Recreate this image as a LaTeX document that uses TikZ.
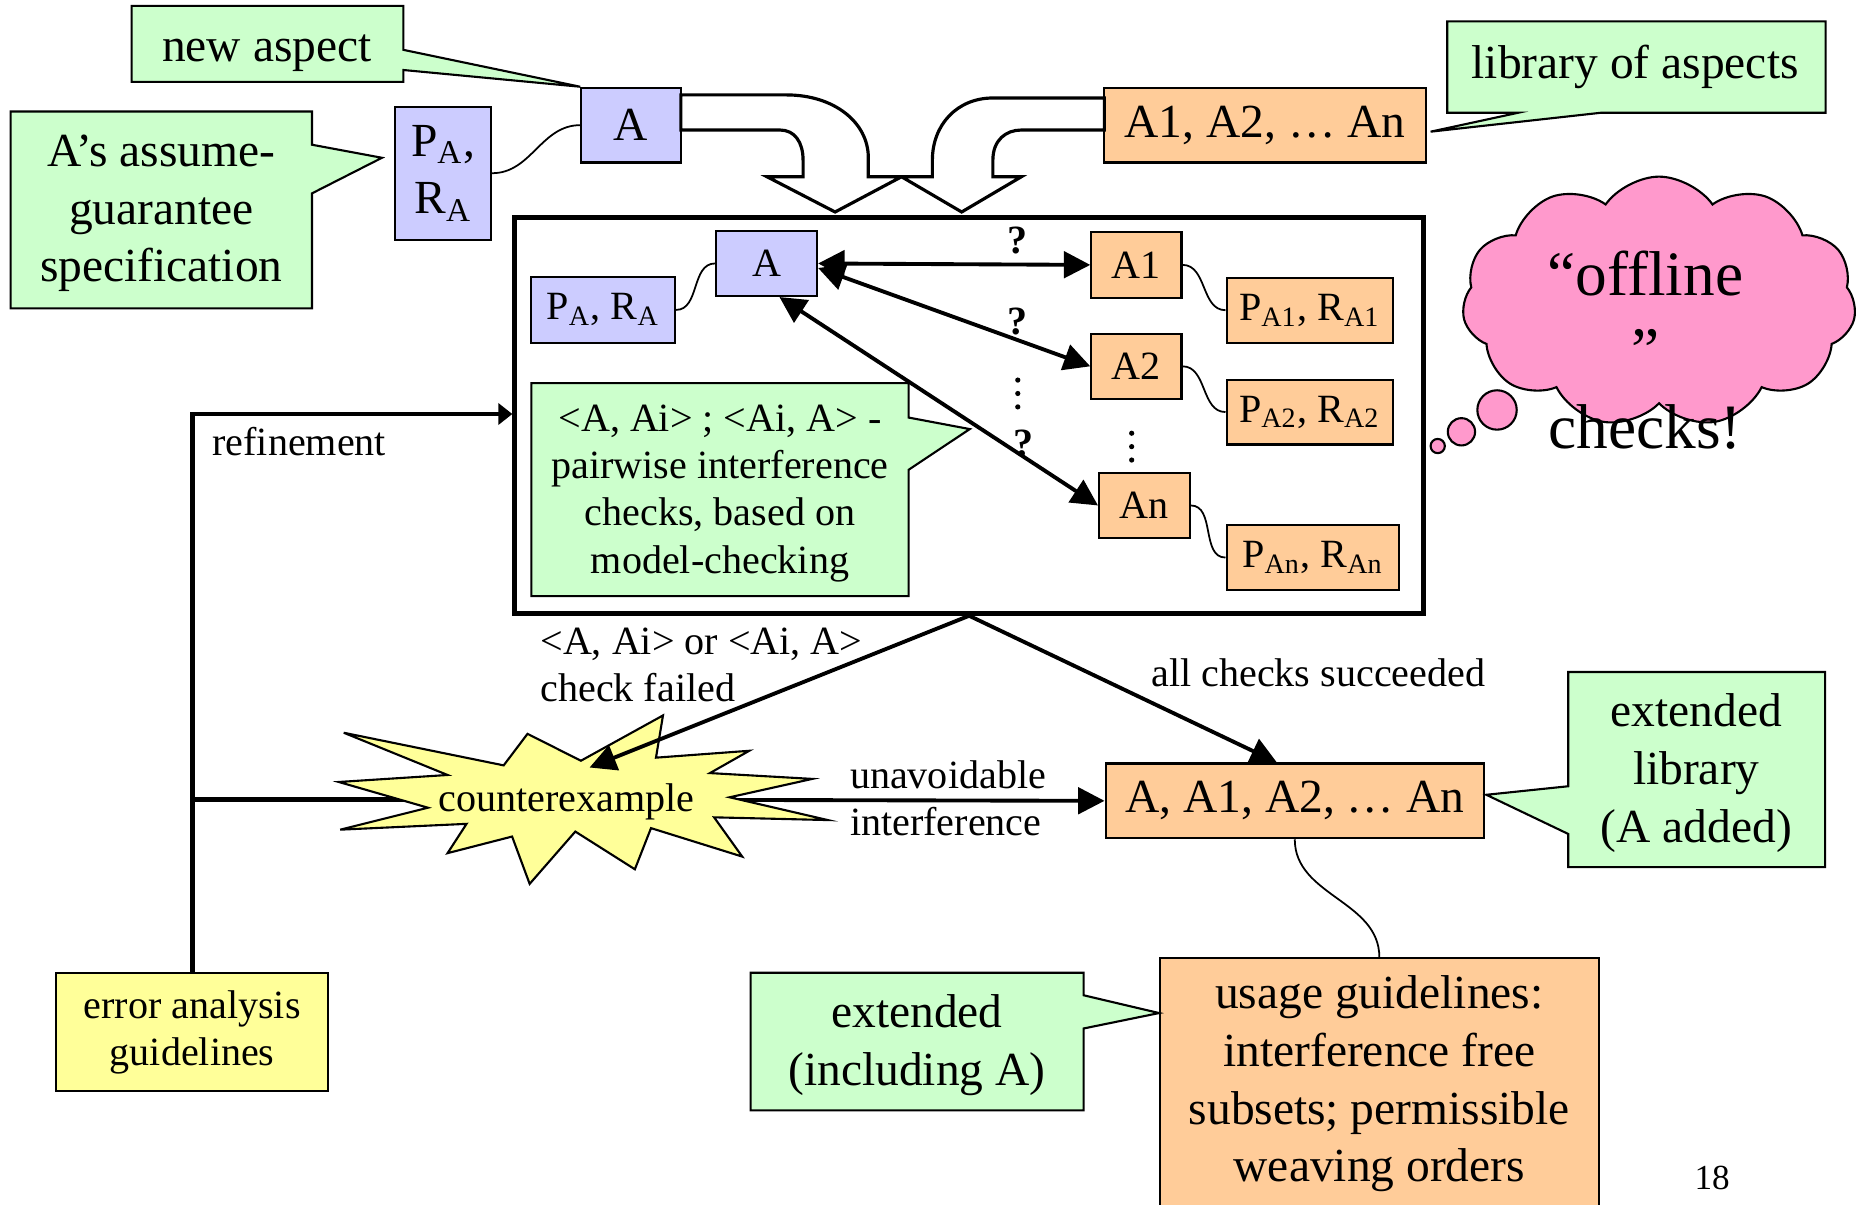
\documentclass[tikz,border=0pt]{standalone}
\usepackage{fontspec}
\setmainfont{Liberation Serif}
\usetikzlibrary{arrows.meta,shapes.symbols}
\definecolor{lav}{HTML}{CCCCFF}
\definecolor{peach}{HTML}{FFCC99}
\definecolor{mint}{HTML}{CCFFCC}
\definecolor{lemon}{HTML}{FFFF99}
\definecolor{rose}{HTML}{FF99CC}
\newdimen\pxu \pxu=0.011862cm
\newcommand\fbig{\fontsize{13.5}{16.4}\selectfont}
\newcommand\fsmall{\fontsize{11.4}{13.4}\selectfont}
\newcommand\fcloud{\fontsize{18}{21.8}\selectfont}
\tikzset{
  sz/.style 2 args={minimum width=#1*\pxu, minimum height=#2*\pxu},
  box/.style={draw=black, line width=0.6pt, inner sep=0pt, align=center},
  aspA/.style={box, fill=lav},
  aspL/.style={box, fill=peach},
  note/.style={draw=black, fill=mint, line width=0.6pt, line join=miter},
  txt/.style={inner sep=0pt, align=center},
  link/.style={draw=black, line width=0.5pt},
  flow/.style={line width=1.1pt, -{Triangle[length=7.5pt,width=7.5pt]}},
  both/.style={line width=1.1pt, {Triangle[length=7.5pt,width=7.5pt]}-{Triangle[length=7.5pt,width=7.5pt]}},
  heavy/.style={line width=1.4pt, line join=miter},
  hollow/.style={draw=black, fill=white, line width=0.9pt, line join=miter},
  ask/.style={inner sep=0pt, font=\fsmall\bfseries},
}

\begin{document}
\begin{tikzpicture}[x=0.011862cm, y=-0.011862cm]
  \useasboundingbox (0,0) rectangle (1568,1015);
  \clip (0,0) rectangle (1568,1015);

  % top row
  \node[aspA, sz={84}{63}, font=\fbig] (topA) at (532,105.5) {A};
  \node[aspA, sz={81}{112}, font=\fbig] (topPR) at (373.5,146) {P\textsubscript{A},\\R\textsubscript{A}};
  \node[aspL, sz={271}{63}, font=\fbig] (topL) at (1066.5,105.5) {A1, A2, … An};
  \draw[link] (topPR.east) to[out=0,in=180] (topA.west);

  \draw[note] (111,5) -- (340,5) -- (340,42) -- (topA.north west) -- (340,59) -- (340,69) -- (111,69) -- cycle;
  \node[txt, font=\fbig, anchor=base] (newasp) at (225,52) {new aspect};
  \draw[note] (9,94) -- (263,94) -- (263,122) -- (322,133) -- (263,163) -- (263,260) -- (9,260) -- cycle;
  \node[txt, font=\fbig] (spec) at (136,180) {A’s assume-\\guarantee\\specification};
  \draw[note] (1220,18) -- (1539,18) -- (1539,95) -- (1350,95) -- (1206,111) -- (1280,95) -- (1220,95) -- cycle;
  \node[txt, font=\fbig, anchor=base] (lib) at (1378.5,66) {library of aspects};

  % merging arrows
  \draw[hollow] (574,80) -- (663,80) .. controls (703,80) and (732,103) .. (732,133) -- (732,149)
    -- (760,149) -- (704,178.7) -- (646.6,149) -- (677,149) -- (677,135)
    .. controls (677,120) and (670,109.6) .. (657.6,109.6) -- (574,109.6) -- cycle;
  \draw[hollow] (931,82.6) -- (837,82.6) .. controls (807,82.6) and (786,105) .. (786,135) -- (786,149)
    -- (760,149) -- (810.7,178.7) -- (861,149) -- (837,149) -- (837,135)
    .. controls (837,118) and (848,109.6) .. (861,109.6) -- (931,109.6) -- cycle;

  % pairwise checks
  \node[draw=black, line width=1.4pt, sz={766}{334}] (check) at (817,350) {};
  \node[aspA, sz={85.2}{54.8}, font=\fsmall] (inA) at (646.2,222.1) {A};
  \node[aspA, sz={121}{55.5}, font=\fsmall] (inPR) at (508.5,261.25) {P\textsubscript{A}, R\textsubscript{A}};
  \node[aspL, sz={76}{55.4}, font=\fsmall] (inA1) at (958,223.3) {A1};
  \node[aspL, sz={140}{55}, font=\fsmall] (pr1) at (1104,261.5) {P\textsubscript{A1}, R\textsubscript{A1}};
  \node[aspL, sz={76}{54.4}, font=\fsmall] (inA2) at (958,308.8) {A2};
  \node[aspL, sz={140}{54.7}, font=\fsmall] (pr2) at (1104,347.35) {P\textsubscript{A2}, R\textsubscript{A2}};
  \node[aspL, sz={76.5}{54.8}, font=\fsmall] (inAn) at (964.75,426.1) {An};
  \node[aspL, sz={145.5}{54.8}, font=\fsmall] (prn) at (1106.75,470) {P\textsubscript{An}, R\textsubscript{An}};
  \draw[link] (inPR.east) to[out=0,in=180] (inA.west);
  \draw[link] (inA1.east) to[out=0,in=180] (pr1.west);
  \draw[link] (inA2.east) to[out=0,in=180] (pr2.west);
  \draw[link] (inAn.east) to[out=0,in=180] (prn.west);

  \draw[note] (448,323) -- (766,323) -- (766,352) -- (817.5,361.7) -- (766,396) -- (766,502.5) -- (448,502.5) -- cycle;
  \node[txt, font=\fsmall] (pairs) at (607,416) {<A, Ai> ; <Ai, A> -\\pairwise interference\\checks, based on\\model-checking};

  \draw[both] (inA.east) -- (inA1.west);
  \draw[both] (inA.-5) -- (inA2.west);
  \draw[both] (inA.-69) -- (inAn.west);
  \node[ask] (q1) at (858,202.7) {?};
  \node[ask] (q2) at (858,271) {?};
  \node[ask] (q3) at (863,374) {?};
  \foreach \dy in {0,11.3,22.6} {
    \fill (858,320.4+\dy) circle[radius=2.2];
    \fill (954,365.2+\dy) circle[radius=2.2];
  }

  % thought cloud
  \node[cloud, cloud puffs=11, cloud puff arc=110, cloud ignores aspect, draw=black, fill=rose,
    line width=0.6pt, sz={332}{211}] (cloud) at (1398.6,254.4) {};
  \foreach \bx/\by/\br in {1262/345.6/16.6, 1232/364/11.5, 1212/376/6}
    \draw[fill=rose, line width=0.6pt] (\bx,\by) circle[radius=\br];
  \node[txt, font=\fcloud] (offl) at (1387,295) {“offline\\”\\checks!};

  % results
  \node[aspL, sz={319}{63}, font=\fbig] (botL) at (1091.5,675.1) {A, A1, A2, … An};
  \node[box, fill=lemon, sz={229.4}{100}, font=\fsmall] (err) at (162,870) {error analysis\\guidelines};
  \coordinate (rf) at (162,349);
  \draw[heavy, -{Triangle[length=4pt,width=6pt]}] (err.north) -- (rf) -- (rf -| check.west);
  \node[txt, font=\fsmall, anchor=base west] (reflab) at (178.5,383.6) {refinement};

  \coordinate (cexc) at (477.5,674);
  \draw[heavy] (cexc -| rf) -- (cexc);
  \draw[flow] (cexc) -- (botL.west);
  \draw[fill=lemon, line width=0.6pt, line join=miter]
    (289.8,617.7) -- (424.6,645.2) -- (444.7,618.6) -- (489.7,641.3) -- (558.9,603.1) -- (553.0,638.7)
    -- (631.6,632.9) -- (598.5,651.7) -- (684.8,656.6) -- (615.1,672.1) -- (697.8,691.3) -- (602.0,689.0)
    -- (625.7,722.1) -- (548.8,698.1) -- (535.2,732.8) -- (485.0,701.0) -- (446.5,745.1) -- (431.7,705.2)
    -- (377.3,719.2) -- (393.3,694.5) -- (286.8,699.4) -- (360.8,680.9) -- (285.6,659.2) -- (377.3,653.3) -- cycle;
  \node[txt, font=\fsmall] (cex) at (477.5,676) {counterexample};
  \node[txt, font=\fsmall, align=left, anchor=west] (unavlab) at (716,672.6) {unavoidable\\interference};

  \coordinate (hit) at (497,647);
  \draw[flow] (check.south) -- (hit);
  \draw[flow] (check.south) -- (botL.115);
  \node[txt, font=\fsmall, align=left, anchor=west] (faillab) at (455,560.2) {<A, Ai> or <Ai, A>\\check failed};
  \node[txt, font=\fsmall, anchor=base west] (oklab) at (970,579) {all checks succeeded};

  \draw[note] (1322,566.5) -- (1538.6,566.5) -- (1538.6,731) -- (1322,731) -- (1322,703) -- (1253,670) -- (1322,662.8) -- cycle;
  \node[txt, font=\fbig] (extlib) at (1430,651.8) {extended\\library\\(A added)};

  \node[aspL, sz={369.6}{300}, anchor=north] (usage) at (1162.8,807) {};
  \node[txt, font=\fbig] (usagetxt) at (1162.8,913.9) {usage guidelines:\\interference free\\subsets; permissible\\weaving orders};
  \draw[link] (botL.south) to[out=-90,in=90] (usage.north);

  \draw[note] (632.8,820) -- (913.5,820) -- (913.5,839) -- (usage.west |- 0,854) -- (913.5,867) -- (913.5,936) -- (632.8,936) -- cycle;
  \node[txt, font=\fbig] (extinc) at (773,881.3) {extended\\(including A)};

  \node[txt, font=\fontsize{10}{12}\selectfont, anchor=base west] (pg) at (1428,1003) {18};
\end{tikzpicture}
\end{document}
